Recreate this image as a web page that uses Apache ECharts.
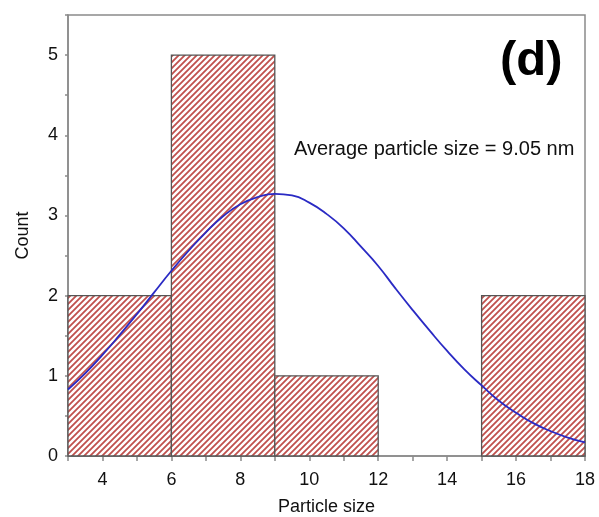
<!DOCTYPE html>
<html>
<head>
<meta charset="utf-8">
<script src="https://cdn.jsdelivr.net/npm/echarts@6/dist/echarts.min.js"></script>
<style>
html,body{margin:0;padding:0;background:#fff;}
#chart{width:599px;height:517px;}
</style>
</head>
<body>
<div id="chart"></div>
<script>
// Histogram bins (particle size, nm)
var binStart = [3, 6, 9, 12, 15];
var binEnd   = [6, 9, 12, 15, 18];
var counts   = [2, 5, 1, 0, 2];

// Fitted distribution curve
var curveX = [3, 3.5, 4, 4.5, 5, 5.5, 6, 6.5, 7, 7.5, 8, 8.5, 9, 9.5, 10, 10.5, 11, 11.5, 12, 12.5, 13, 13.5, 14, 14.5, 15, 15.5, 16, 16.5, 17, 17.5, 18];
var curveY = [0.83, 1.03, 1.26, 1.51, 1.77, 2.04, 2.31, 2.56, 2.79, 2.99, 3.14, 3.23, 3.27, 3.25, 3.16, 3.02, 2.84, 2.61, 2.37, 2.09, 1.82, 1.56, 1.31, 1.08, 0.88, 0.69, 0.54, 0.41, 0.31, 0.23, 0.17];

var xTickLabels = [4, 6, 8, 10, 12, 14, 16, 18];
var yTickLabels = [0, 1, 2, 3, 4, 5];

var annotation = 'Average particle size = 9.05 nm';
var panelLabel = '(d)';

// hatch pattern
var tile = document.createElement('canvas');
tile.width = 6; tile.height = 6;
var c = tile.getContext('2d');
c.fillStyle = '#ffffff';
c.fillRect(0, 0, 6, 6);
c.strokeStyle = '#c0504d';
c.lineWidth = 1.8;
c.beginPath();
c.moveTo(-1, 7); c.lineTo(7, -1);
c.moveTo(-4, 4); c.lineTo(4, -4);
c.moveTo(2, 10); c.lineTo(10, 2);
c.stroke();

var histData = binStart.map(function (s, i) { return [s, binEnd[i], counts[i]]; });
var curveData = curveX.map(function (x, i) { return [x, curveY[i]]; });

var FONT = 'Liberation Sans, Arial, Helvetica, sans-serif';
var chart = echarts.init(document.getElementById('chart'), null, {renderer: 'canvas'});
chart.setOption({
  animation: false,
  backgroundColor: '#ffffff',
  grid: {left: 68, right: 14, top: 15, bottom: 61, show: true, borderColor: '#8a8a8a', borderWidth: 1.5, outerBoundsMode: 'none', containLabel: false},
  xAxis: {
    type: 'value', min: 3, max: 18, interval: 1,
    name: 'Particle size', nameLocation: 'middle', nameGap: 42,
    nameTextStyle: {fontFamily: FONT, fontSize: 18, color: '#111'},
    axisLine: {show: true, lineStyle: {color: '#8a8a8a', width: 1.5}},
    axisTick: {show: true, length: 5, lineStyle: {color: '#8a8a8a', width: 1.5}},
    axisLabel: {
      margin: 15, fontFamily: FONT, fontSize: 18, color: '#111',
      formatter: function (v) { return xTickLabels.indexOf(v) >= 0 ? String(v) : ''; }
    },
    splitLine: {show: false}
  },
  yAxis: {
    type: 'value', min: 0, max: 5.5, interval: 1,
    name: 'Count', nameLocation: 'middle', nameGap: 36,
    nameTextStyle: {fontFamily: FONT, fontSize: 18, color: '#111'},
    axisLine: {show: true, lineStyle: {color: '#8a8a8a', width: 1.5}},
    axisTick: {show: true, length: 3, lineStyle: {color: '#8a8a8a', width: 1.5}},
    minorTick: {show: true, splitNumber: 2, length: 3, lineStyle: {color: '#8a8a8a', width: 1.5}},
    axisLabel: {
      margin: 10, fontFamily: FONT, fontSize: 18, color: '#111',
      formatter: function (v) { return yTickLabels.indexOf(v) >= 0 ? String(v) : ''; }
    },
    splitLine: {show: false}
  },
  series: [
    {
      type: 'custom',
      data: histData,
      z: 2,
      renderItem: function (params, api) {
        var h = api.value(2);
        if (!h) return null;
        var p0 = api.coord([api.value(0), h]);
        var p1 = api.coord([api.value(1), 0]);
        return {
          type: 'rect',
          shape: {x: p0[0], y: p0[1], width: p1[0] - p0[0], height: p1[1] - p0[1]},
          style: {fill: {image: tile, repeat: 'repeat'}, stroke: '#555555', lineWidth: 1.3}
        };
      }
    },
    {
      type: 'line',
      data: curveData,
      smooth: true,
      showSymbol: false,
      z: 3,
      lineStyle: {color: '#2a2ac4', width: 1.8}
    }
  ],
  graphic: [
    {type: 'text', left: 294, top: 139, style: {text: annotation, font: '20px ' + FONT, fill: '#111'}},
    {type: 'text', left: 500, top: 37, style: {text: panelLabel, font: 'bold 49px ' + FONT, fill: '#000'}}
  ]
});
</script>
</body>
</html>
